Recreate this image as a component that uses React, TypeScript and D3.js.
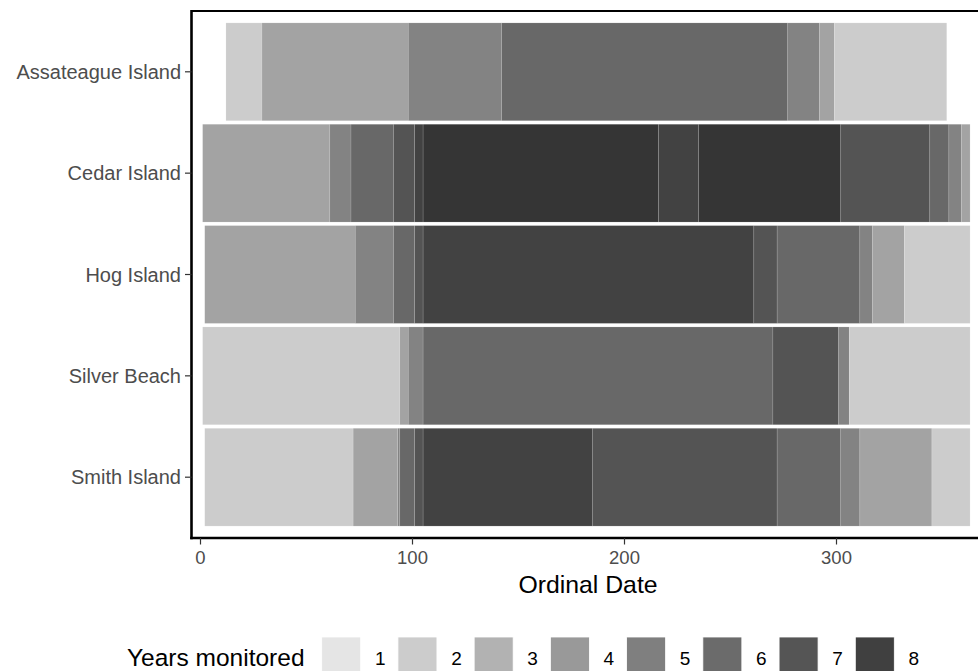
import React from "react";
import * as d3 from "d3";

const sites = ["Assateague Island", "Cedar Island", "Hog Island", "Silver Beach", "Smith Island"];

const assateagueBreaks = [12, 29, 98, 142, 277, 292, 299, 352];
const assateagueYears = [2, 3, 4, 5, 4, 3, 2];
const cedarBreaks = [1, 61, 71, 91, 101, 105, 216, 235, 302, 344, 353, 359, 363];
const cedarYears = [3, 4, 5, 6, 7, 8, 7, 8, 6, 5, 4, 3];
const hogBreaks = [2, 73, 91, 101, 105, 261, 272, 311, 317, 332, 363];
const hogYears = [3, 4, 5, 6, 7, 6, 5, 4, 3, 2];
const silverBreaks = [1, 94, 98, 105, 270, 301, 306, 363];
const silverYears = [2, 3, 4, 5, 6, 4, 2];
const smithBreaks = [2, 72, 93, 94, 101, 105, 185, 272, 302, 311, 345, 363];
const smithYears = [2, 3, 4, 5, 6, 7, 6, 5, 4, 3, 2];

const siteBreaks = [assateagueBreaks, cedarBreaks, hogBreaks, silverBreaks, smithBreaks];
const siteYears = [assateagueYears, cedarYears, hogYears, silverYears, smithYears];

const xTicks = [0, 100, 200, 300];
const legendLevels = [1, 2, 3, 4, 5, 6, 7, 8];
const legendColors = ["#e5e5e5", "#cccccc", "#b2b2b2", "#999999", "#7f7f7f", "#6b6b6b", "#555555", "#404040"];
const tileColors = ["#e5e5e5", "#cccccc", "#a3a3a3", "#838383", "#686868", "#545454", "#424242", "#353535"];

const W = 978;
const H = 671;
const panel = { left: 191.5, top: 11, right: 978, bottom: 538 };
const FONT = "'Liberation Sans', Arial, sans-serif";

export default function App() {
  const x = d3.scaleLinear().domain([0, 300]).range([200.5, 836.5]);
  const y = d3.scaleLinear().domain([-0.6, 4.6]).range([panel.top, panel.bottom]);
  const tileColor = d3.scaleOrdinal<number, string>().domain(legendLevels).range(tileColors);
  const legendColor = d3.scaleOrdinal<number, string>().domain(legendLevels).range(legendColors);
  const legendX = d3.scaleLinear().domain([1, 8]).range([321.7, 855.3]);
  const tileH = 0.965;

  const tiles: { key: string; x0: number; x1: number; row: number; years: number }[] = [];
  siteBreaks.forEach((br, row) => {
    siteYears[row].forEach((yv, k) => {
      tiles.push({ key: `${row}-${k}`, x0: br[k], x1: br[k + 1], row, years: yv });
    });
  });

  return (
    <svg width={W} height={H} style={{ position: "absolute", left: 0, top: 0, background: "#fff" }} fontFamily={FONT}>
      <rect x={0} y={0} width={W} height={H} fill="#fff" />
      <g>
        {tiles.map((t) => (
          <rect
            key={t.key}
            x={x(t.x0)}
            y={y(t.row - tileH / 2)}
            width={x(t.x1) - x(t.x0)}
            height={y(t.row + tileH / 2) - y(t.row - tileH / 2)}
            fill={tileColor(t.years)}
            stroke="#ffffff"
            strokeOpacity={0.2}
            strokeWidth={0.6}
          />
        ))}
      </g>
      {/* panel lines */}
      <line x1={panel.left} x2={panel.right} y1={panel.top} y2={panel.top} stroke="#000" strokeWidth={2.2} />
      <line x1={panel.left} x2={panel.left} y1={panel.top - 1} y2={panel.bottom + 1.2} stroke="#000" strokeWidth={2.6} />
      <line x1={panel.left - 1.3} x2={panel.right} y1={panel.bottom} y2={panel.bottom} stroke="#000" strokeWidth={2.6} />
      {/* y axis */}
      {sites.map((s, i) => (
        <g key={s}>
          <line x1={panel.left - 6.5} x2={panel.left} y1={y(i)} y2={y(i)} stroke="#333" strokeWidth={1.2} />
          <text x={181} y={y(i)} dy="0.35em" textAnchor="end" fontSize={20} fill="#4d4d4d">
            {s}
          </text>
        </g>
      ))}
      {/* x axis */}
      {xTicks.map((t) => (
        <g key={t}>
          <line x1={x(t)} x2={x(t)} y1={panel.bottom} y2={panel.bottom + 6.5} stroke="#333" strokeWidth={1.2} />
          <text x={x(t)} y={564} textAnchor="middle" fontSize={18.5} fill="#4d4d4d">
            {t}
          </text>
        </g>
      ))}
      <text x={588} y={593} textAnchor="middle" fontSize={24.8} fill="#000">
        Ordinal Date
      </text>
      {/* legend */}
      <text x={127} y={666} fontSize={24.5} fill="#000">
        Years monitored
      </text>
      {legendLevels.map((lv) => (
        <g key={lv}>
          <rect x={legendX(lv)} y={637} width={39} height={40} fill={legendColor(lv)} stroke="#fff" strokeWidth={0.8} />
          <text x={legendX(lv) + 58.5} y={665} textAnchor="middle" fontSize={19} fill="#000">
            {lv}
          </text>
        </g>
      ))}
    </svg>
  );
}
